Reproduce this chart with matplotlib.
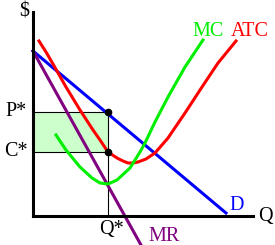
import matplotlib
matplotlib.use("Agg")
import matplotlib.pyplot as plt
from matplotlib.patches import Rectangle

# Coordinates in a quantity/price space (origin at the axis corner)
demand_q = [0, 193]
demand_p = [165, 3]
mr_q = [0, 108]
mr_p = [165, -29]
atc_q = [6, 13, 20, 33, 47, 60, 67, 75, 84, 90, 95, 100, 105, 113, 122, 135, 152, 169, 185, 203]
atc_p = [175, 164, 152, 129, 106, 86, 76, 64, 58, 55, 53, 53, 54, 57, 63, 78, 103, 129, 153, 175]
mc_q = [23, 33, 47, 59, 67, 75, 84, 97, 107, 112, 122, 135, 152, 170]
mc_p = [81, 66, 49, 38, 33, 32, 36, 48, 64, 73, 94, 119, 149, 176]
q_star = 75
p_star = 104
c_star = 64
q_max = 220
p_max = 204

fig = plt.figure(figsize=(2.75, 2.45), dpi=100)
ax = fig.add_axes([0, 0, 1, 1])
ax.set_xlim(-33, 242)
ax.set_ylim(-29, 216)
ax.axis("off")

font = dict(family="Liberation Serif", size=14.5)

ax.add_patch(Rectangle((0, c_star), q_star, p_star - c_star, facecolor="#ccffcc", edgecolor="none", zorder=1))
ax.plot([0, q_star], [p_star, p_star], color="black", lw=0.8, zorder=2)
ax.plot([0, q_star], [c_star, c_star], color="black", lw=0.8, zorder=2)
ax.plot([q_star, q_star], [0, p_star], color="black", lw=0.8, zorder=2)

ax.plot([0, 0], [0, p_max], color="black", lw=2.2, zorder=5)
ax.plot([0, q_max], [0, 0], color="black", lw=2.2, zorder=5)

ax.plot(demand_q, demand_p, color="#0000ff", lw=2.2, zorder=3)
ax.plot(mr_q, mr_p, color="#800080", lw=2.2, zorder=3, clip_on=False)
ax.plot(atc_q, atc_p, color="#ff0000", lw=2.2, zorder=3)
ax.plot(mc_q, mc_p, color="#00ee00", lw=2.2, zorder=3)

ax.plot([q_star, q_star], [p_star, c_star], "o", color="black", ms=4.5, zorder=6)

ax.text(-9, 204, "$", ha="center", va="center", **font)
ax.text(-17, p_star, "P*", ha="center", va="center", **font)
ax.text(-17, c_star, "C*", ha="center", va="center", **font)
ax.text(q_star + 3, -13, "Q*", ha="center", va="center", **font)
ax.text(232, 0, "Q", ha="center", va="center", **font)
ax.text(204, 11, "D", ha="center", va="center", color="#0000ff", **font)
ax.text(131, -20, "MR", ha="center", va="center", color="#800080", **font)
ax.text(175, 184, "MC", ha="center", va="center", color="#00ee00", **font)
ax.text(217, 184, "ATC", ha="center", va="center", color="#ff0000", **font)

fig.savefig("out.png", dpi=100)
